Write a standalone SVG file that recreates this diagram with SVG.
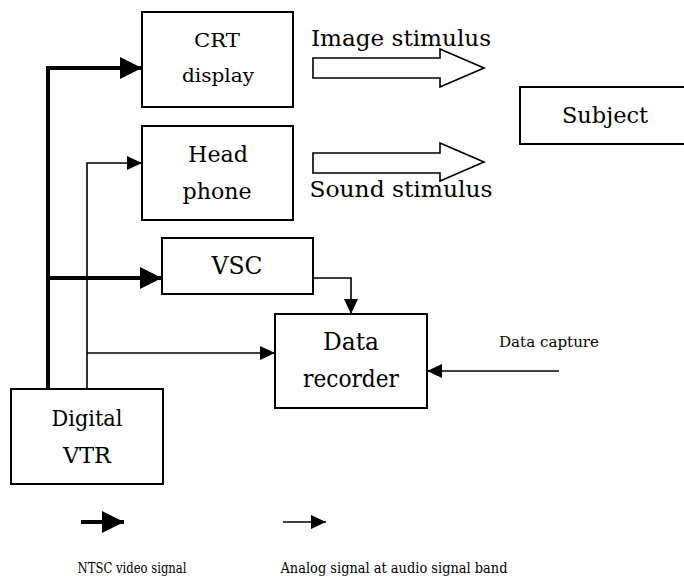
<svg xmlns="http://www.w3.org/2000/svg" width="684" height="576" viewBox="0 0 684 576">
<style>
.box{fill:#fff;stroke:#000;stroke-width:2}
.t{font-family:"DejaVu Serif","Liberation Serif",serif;fill:#000;text-anchor:middle}
.thick{fill:none;stroke:#000;stroke-width:4}
.thin{fill:none;stroke:#000;stroke-width:1.6}
.hollow{fill:#fff;stroke:#000;stroke-width:1.6}
</style>
<defs>
<marker id="ah" viewBox="0 0 22 22" refX="22" refY="11" markerWidth="22" markerHeight="22" markerUnits="userSpaceOnUse" orient="auto"><path d="M0,0 L22,11 L0,22 z" fill="#000"/></marker>
<marker id="at" viewBox="0 0 15 14" refX="15" refY="7" markerWidth="15" markerHeight="14" markerUnits="userSpaceOnUse" orient="auto"><path d="M0,0 L15,7 L0,14 z" fill="#000"/></marker>
</defs>
<g id="connectors">
<path class="thick" d="M48,389 V68 H142" marker-end="url(#ah)"/>
<path class="thick" d="M48,278 H162" marker-end="url(#ah)"/>
<path class="thin" d="M87,389 V163 H142" marker-end="url(#at)"/>
<path class="thin" d="M87,353 H275" marker-end="url(#at)"/>
<path class="thin" d="M313,278 H351 V314" marker-end="url(#at)"/>
<path class="thin" d="M559,371 H427" stroke-width="2" marker-end="url(#at)"/>
</g>
<g id="crt"><rect class="box" x="142" y="12" width="151" height="95"/>
<text class="t" x="217" y="47" font-size="19" textLength="46" lengthAdjust="spacingAndGlyphs">CRT</text>
<text class="t" x="218" y="82" font-size="19" textLength="72" lengthAdjust="spacingAndGlyphs">display</text></g>
<g id="headphone"><rect class="box" x="142" y="126" width="151" height="94"/>
<text class="t" x="218" y="162" font-size="23" textLength="60" lengthAdjust="spacingAndGlyphs">Head</text>
<text class="t" x="217" y="199" font-size="23" textLength="69" lengthAdjust="spacingAndGlyphs">phone</text></g>
<g id="image-stimulus"><polygon class="hollow" points="313,58 440,58 440,49 484,68 440,87 440,78 313,78"/>
<text class="t" x="401" y="46" font-size="23" textLength="180" lengthAdjust="spacingAndGlyphs">Image stimulus</text></g>
<g id="sound-stimulus"><polygon class="hollow" points="313,153 440,153 440,143 484,162 440,181 440,173 313,173"/>
<text class="t" x="401" y="197" font-size="23" textLength="183" lengthAdjust="spacingAndGlyphs">Sound stimulus</text></g>
<g id="subject"><rect class="box" x="520" y="87" width="172" height="57"/>
<text class="t" x="605" y="123" font-size="23" textLength="86" lengthAdjust="spacingAndGlyphs">Subject</text></g>
<g id="vsc"><rect class="box" x="162" y="238" width="151" height="56"/>
<text class="t" x="237" y="274" font-size="25" textLength="51" lengthAdjust="spacingAndGlyphs">VSC</text></g>
<g id="data-recorder"><rect class="box" x="275" y="314" width="152" height="94"/>
<text class="t" x="351" y="350" font-size="25" textLength="56" lengthAdjust="spacingAndGlyphs">Data</text>
<text class="t" x="351" y="387" font-size="25" textLength="96" lengthAdjust="spacingAndGlyphs">recorder</text></g>
<g id="data-capture"><text class="t" x="549" y="347" font-size="15" textLength="100" lengthAdjust="spacingAndGlyphs">Data capture</text></g>
<g id="digital-vtr"><rect class="box" x="11" y="389" width="152" height="95"/>
<text class="t" x="87" y="426" font-size="23" textLength="71" lengthAdjust="spacingAndGlyphs">Digital</text>
<text class="t" x="87" y="463" font-size="23" textLength="48" lengthAdjust="spacingAndGlyphs">VTR</text></g>
<g id="legend">
<path class="thick" d="M81,522 H124" marker-end="url(#ah)"/>
<path class="thin" d="M283,522 H326" stroke-width="2" marker-end="url(#at)"/>
<text class="t" x="132" y="573" font-size="15" textLength="109" lengthAdjust="spacingAndGlyphs">NTSC video signal</text>
<text class="t" x="394" y="573" font-size="15" textLength="227" lengthAdjust="spacingAndGlyphs">Analog signal at audio signal band</text>
</g>
</svg>
